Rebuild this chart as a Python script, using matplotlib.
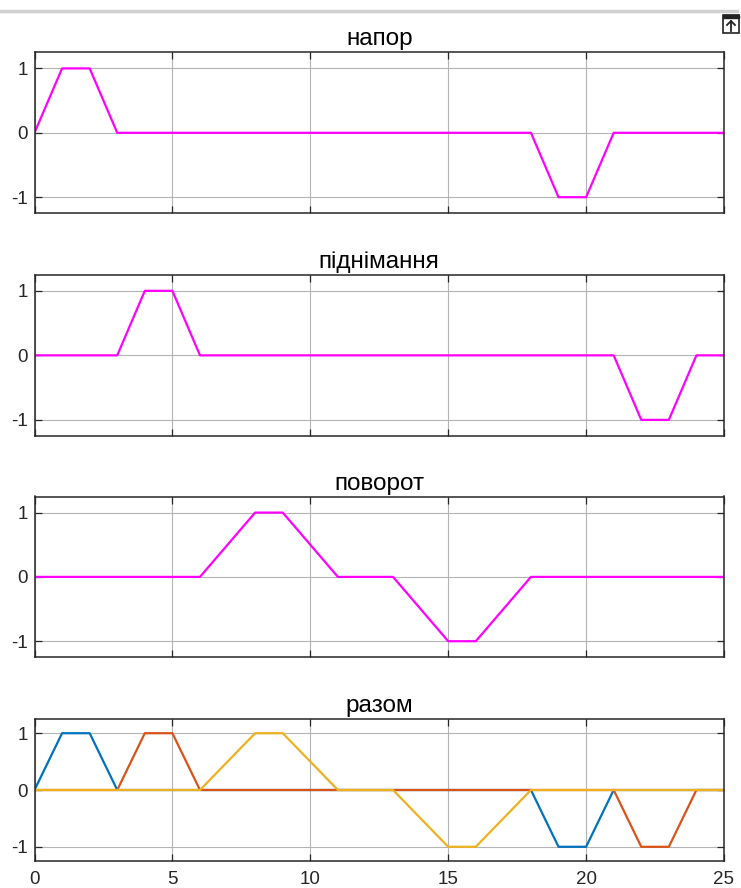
import matplotlib
matplotlib.use("Agg")
import matplotlib.pyplot as plt
from matplotlib.patches import Rectangle
from matplotlib.lines import Line2D

plt.rcParams['font.family'] = ['Liberation Sans', 'DejaVu Sans']

# Data
t_napor = [0, 1, 2, 3, 18, 19, 20, 21, 25]
y_napor = [0, 1, 1, 0, 0, -1, -1, 0, 0]

t_pidn = [0, 3, 4, 5, 6, 21, 22, 23, 24, 25]
y_pidn = [0, 0, 1, 1, 0, 0, -1, -1, 0, 0]

t_povorot = [0, 6, 8, 9, 11, 13, 15, 16, 18, 25]
y_povorot = [0, 0, 1, 1, 0, 0, -1, -1, 0, 0]

titles = ["напор", "піднімання", "поворот", "разом"]
x_ticks = [0, 5, 10, 15, 20, 25]
y_ticks = [-1, 0, 1]

MAGENTA = "#FF00FF"
C_BLUE = "#0072BD"
C_ORANGE = "#D95319"
C_YELLOW = "#EDB120"

fig = plt.figure(figsize=(7.41, 8.88), dpi=100)
W, H = 741, 888

def ax_rect(top, bottom, left=34.5, right=724):
    return [left / W, (H - bottom) / H, (right - left) / W, (bottom - top) / H]

rects = [ax_rect(52.3, 213.3), ax_rect(274.7, 436), ax_rect(496.5, 657.3), ax_rect(719, 861)]

axes = []
for i, r in enumerate(rects):
    ax = fig.add_axes(r)
    axes.append(ax)
    ax.set_xlim(0, 25)
    ax.set_ylim(-1.25, 1.25)
    ax.set_xticks(x_ticks)
    ax.set_yticks(y_ticks)
    ax.set_yticklabels([str(v) for v in y_ticks])
    ax.grid(True, color="#b4b4b4", linewidth=0.8)
    ax.set_axisbelow(True)
    ax.tick_params(direction="in", length=5, width=0.9, top=True, right=True,
                   labelsize=13.5, colors="#262626", pad=5)
    for s in ax.spines.values():
        s.set_linewidth(1.1)
        s.set_color("#262626")
    ax.set_title(titles[i], fontsize=17.5, color="#000000", pad=5)
    if i < 3:
        ax.set_xticklabels([])
    else:
        ax.set_xticklabels([str(v) for v in x_ticks])
        ax.tick_params(axis="x", pad=7)

axes[0].plot(t_napor, y_napor, color=MAGENTA, lw=1.6)
axes[1].plot(t_pidn, y_pidn, color=MAGENTA, lw=1.6)
axes[2].plot(t_povorot, y_povorot, color=MAGENTA, lw=1.6)
axes[3].plot(t_napor, y_napor, color=C_BLUE, lw=1.6)
axes[3].plot(t_pidn, y_pidn, color=C_ORANGE, lw=1.6)
axes[3].plot(t_povorot, y_povorot, color=C_YELLOW, lw=1.6)

# Top gray separator line
fig.add_artist(Line2D([0, 737 / W], [(H - 11) / H, (H - 11) / H], color="#d0d0d0", lw=2.5))

# Export icon (top-right)
fig.add_artist(Rectangle((723 / W, (H - 33) / H), 16 / W, 18 / H, fill=False,
                         edgecolor="#222222", lw=1.2))
fig.add_artist(Rectangle((723 / W, (H - 18) / H), 16 / W, 3 / H, color="#222222"))
fig.add_artist(Line2D([731 / W, 731 / W], [(H - 31) / H, (H - 21) / H], color="#222222", lw=1.3))
fig.add_artist(Line2D([727 / W, 731 / W, 735 / W], [(H - 25) / H, (H - 21) / H, (H - 25) / H],
                      color="#222222", lw=1.3))

fig.savefig("out.png", dpi=100, facecolor="white")
